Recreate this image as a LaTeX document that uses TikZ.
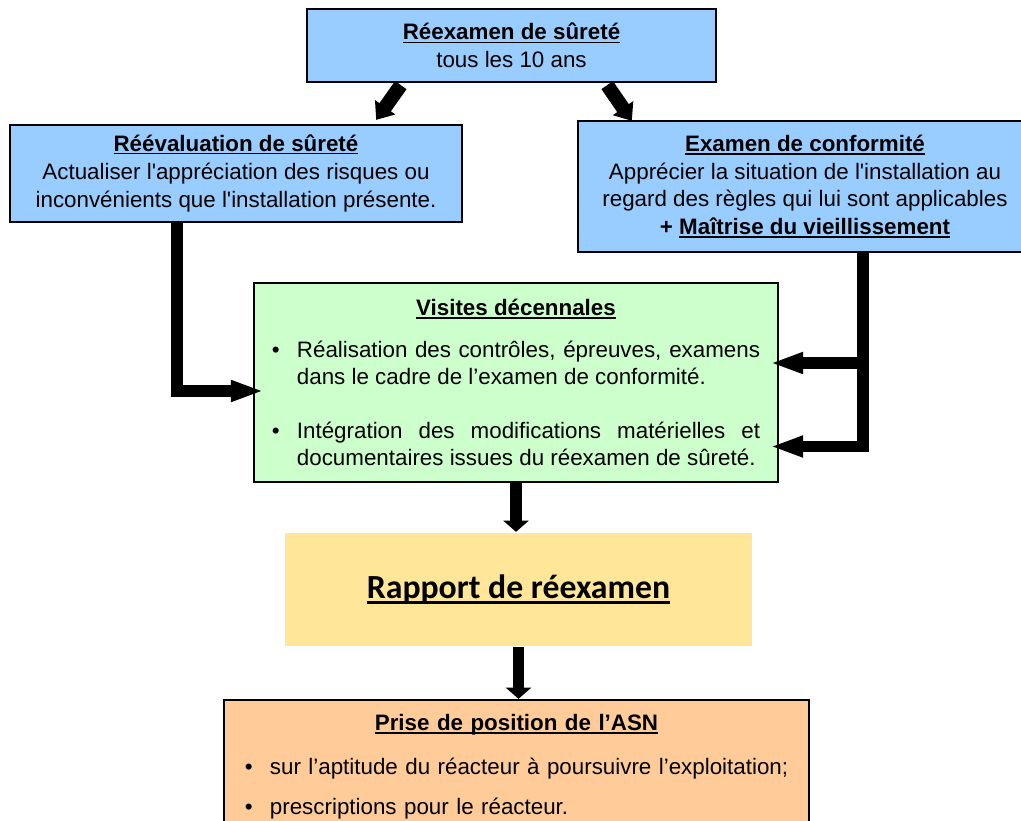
\documentclass[tikz,border=0pt]{standalone}
\usepackage{fontspec}
\setmainfont{Liberation Sans}
\newfontfamily\calibri{Carlito}
\usetikzlibrary{arrows.meta,calc}

\definecolor{bleu}{HTML}{99CCFF}
\definecolor{vert}{HTML}{CCFFCC}
\definecolor{jaune}{HTML}{FFE699}
\definecolor{saumon}{HTML}{FFCC99}

\newcommand{\souligne}[1]{\setbox0=\hbox{#1}\rlap{\rule[-0.15em]{\wd0}{0.07em}}\box0}
\newcommand{\titre}[1]{\textbf{\souligne{#1}}}
\newcommand{\puce}[1]{\par\noindent\hangindent=0.625cm\hangafter=1\makebox[0.625cm][l]{\textbullet}#1\par}
\newcommand{\apos}{\textquotesingle}

\tikzset{
  boite/.style={rectangle, draw=black, line width=1.6pt, inner sep=0pt, align=center,
    font=\fontsize{15.9}{19.6}\selectfont},
  fleche/.style={line width=8.5pt, -{Triangle[length=23.5pt,width=14pt]}},
  flechediag/.style={line width=10pt, -{Triangle[length=11pt,width=17pt]}},
  flechebas/.style={line width=8.5pt, -{Triangle[length=8pt,width=17.8pt]}},
}

\begin{document}
\begin{tikzpicture}[x=0.025cm, y=-0.025cm]
\useasboundingbox (0,0) rectangle (1021,821);
\clip (0,0) rectangle (1021,821);
% boites
\node[boite, fill=bleu, minimum width=10.225cm, minimum height=1.825cm] (reexamen) at (511.5,45.5)
  {\titre{Réexamen de sûreté}\\tous les 10 ans};
\node[boite, fill=bleu, minimum width=11.3cm, minimum height=2.425cm,
  font=\fontsize{15.9}{20.2}\selectfont] (reeval) at (236,173.5)
  {\titre{Réévaluation de sûreté}\\Actualiser l\apos appréciation des risques ou\\inconvénients que l\apos installation présente.};
\node[boite, fill=bleu, minimum width=11.35cm, minimum height=3.275cm] (conf) at (805,186.5)
  {\titre{Examen de conformité}\\Apprécier la situation de l\apos installation au\\regard des règles qui lui sont applicables\\\textbf{+ \souligne{Maîtrise du vieillissement}}};
\node[boite, fill=vert, align=justify, text width=12.2cm, minimum width=13.1cm, minimum height=4.975cm,
  font=\fontsize{15.9}{19.3}\selectfont] (visites) at (516,382.5)
  {{\centering\titre{Visites décennales}\par}
   \vspace{11pt}
   \puce{Réalisation des contrôles, épreuves, examens\linebreak dans le cadre de l’examen de conformité.}
   \vspace{19pt}
   \puce{Intégration des modifications matérielles et\linebreak documentaires issues du réexamen de sûreté.}};
\node[boite, draw=none, fill=jaune, minimum width=11.675cm, minimum height=2.825cm,
  font=\calibri\bfseries\fontsize{24}{28}\selectfont] (rapport) at (518.5,589.5)
  {\souligne{Rapport de réexamen}};
\node[boite, fill=saumon, align=left, text width=13.575cm, minimum width=14.625cm, minimum height=3.325cm] (asn) at (516.5,766.5)
  {{\centering\titre{Prise de position de l’ASN}\par}
   \vspace{12pt}
   \puce{\mbox{sur l’aptitude du réacteur à poursuivre l’exploitation;}}
   \vspace{8.3pt}
   \puce{\mbox{prescriptions pour le réacteur.}}};
% fleches
\draw[flechediag] ($(reexamen.south west)+(95,2)$) -- ($(reeval.north east)+(-87,-4)$);
\draw[flechediag] ($(reexamen.south east)+(-110,2)$) -- ($(conf.north west)+(55,1)$);
\draw[fleche] ($(reeval.south west)+(168,0)$) |- ($(visites.west)+(11,8.5)$);
\draw[fleche] ($(conf.south west)+(286,0)$) |- ($(visites.east)+(-9,-19.5)$);
\draw[fleche] ($(conf.south west)+(286,0)$) |- ($(visites.east)+(-9,64)$);
\draw[flechebas] (visites.south) -- (visites.south |- rapport.north);
\draw[flechebas] (rapport.south) -- (rapport.south |- asn.north);
\end{tikzpicture}
\end{document}
